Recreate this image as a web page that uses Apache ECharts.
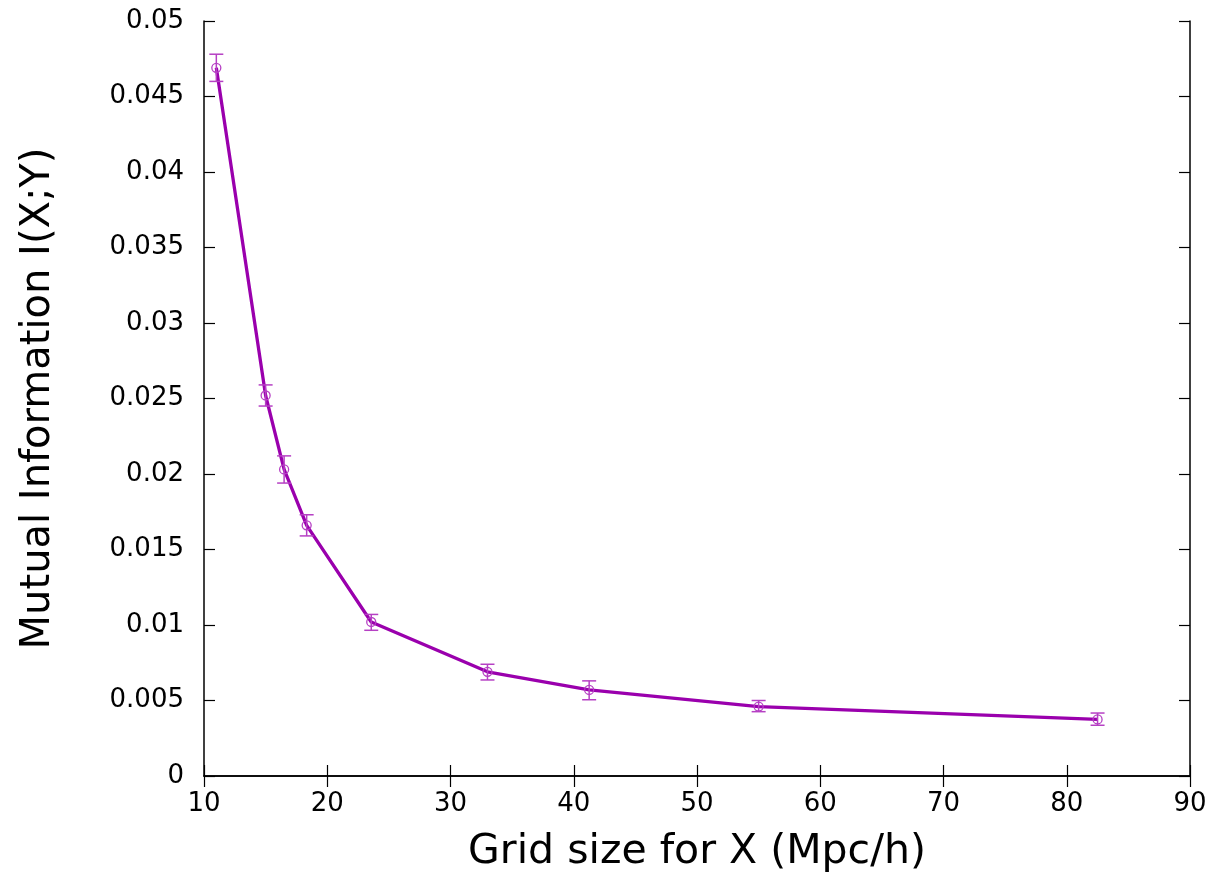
<!DOCTYPE html>
<html><head><meta charset="utf-8">
<script src="https://cdn.jsdelivr.net/npm/echarts@6/dist/echarts.min.js"></script>
<style>html,body{margin:0;padding:0;background:#fff}#c{width:1215px;height:874px}</style>
</head><body><div id="c"></div>
<script>
const gridSize = [11, 15, 16.5, 18.33, 23.57, 33, 41.25, 55, 82.5];
const mutualInfo = [0.0469, 0.0252, 0.0203, 0.0166, 0.0102, 0.0069, 0.0057, 0.0046, 0.00375];
const errLow = [0.0460, 0.0245, 0.0194, 0.0159, 0.00965, 0.00636, 0.00505, 0.00426, 0.00336];
const errHigh = [0.0478, 0.0259, 0.0212, 0.0173, 0.0107, 0.0074, 0.0063, 0.0050, 0.00417];
const xTicks = [10, 20, 30, 40, 50, 60, 70, 80, 90];
const yTicks = [0, 0.005, 0.01, 0.015, 0.02, 0.025, 0.03, 0.035, 0.04, 0.045, 0.05];

const lineColor = '#9a00ad';
const errColor = '#b640c4';
const font = 'DejaVu Sans';

const chart = echarts.init(document.getElementById('c'), null, {renderer: 'canvas'});
const pts = gridSize.map((x, i) => [x, mutualInfo[i]]);
const errs = gridSize.map((x, i) => [x, errLow[i], errHigh[i]]);

const axisCommon = {
  axisLine: {show: true, lineStyle: {color: '#000', width: 1.5}},
  axisTick: {show: true, inside: true, length: 11, lineStyle: {color: '#000', width: 1.2}},
  splitLine: {show: false},
};

chart.setOption({
  animation: false,
  grid: {left: 204, right: 25, top: 21, bottom: 98, containLabel: false, outerBoundsMode: 'none'},
  xAxis: [
    Object.assign({type: 'value', min: 10, max: 90, interval: 10, position: 'bottom',
      name: 'Grid size for X (Mpc/h)', nameLocation: 'middle', nameGap: 56,
      nameTextStyle: {fontFamily: font, fontSize: 41, color: '#000'},
      axisLabel: {fontFamily: font, fontSize: 26, color: '#000', margin: 15,
        formatter: v => xTicks.includes(v) ? String(v) : ''}}, axisCommon),
    Object.assign({type: 'value', min: 10, max: 90, interval: 10, position: 'top',
      axisLabel: {show: false}}, axisCommon)
  ],
  yAxis: [
    Object.assign({type: 'value', min: 0, max: 0.05, interval: 0.005, position: 'left',
      name: 'Mutual Information I(X;Y)', nameLocation: 'middle', nameGap: 145,
      nameTextStyle: {fontFamily: font, fontSize: 40, color: '#000'},
      axisLabel: {fontFamily: font, fontSize: 26, color: '#000', margin: 20,
        formatter: v => { const t = yTicks.find(k => Math.abs(k - v) < 1e-9); return t === undefined ? '' : String(+t.toFixed(3)); }}}, axisCommon),
    Object.assign({type: 'value', min: 0, max: 0.05, interval: 0.005, position: 'right',
      axisLabel: {show: false}}, axisCommon)
  ],
  series: [
    {
      type: 'line', data: pts, xAxisIndex: 0, yAxisIndex: 0,
      symbol: 'circle', symbolSize: 9,
      lineStyle: {color: lineColor, width: 3.3},
      itemStyle: {color: 'rgba(0,0,0,0)', borderColor: errColor, borderWidth: 1.3},
      z: 2
    },
    {
      type: 'custom', data: errs, xAxisIndex: 0, yAxisIndex: 0, z: 3,
      renderItem: function (params, api) {
        const x = api.value(0);
        const lo = api.coord([x, api.value(1)]);
        const hi = api.coord([x, api.value(2)]);
        const hw = 7;
        const st = {stroke: errColor, lineWidth: 1.5};
        return {type: 'group', children: [
          {type: 'line', shape: {x1: lo[0], y1: lo[1], x2: hi[0], y2: hi[1]}, style: st},
          {type: 'line', shape: {x1: lo[0] - hw, y1: lo[1], x2: lo[0] + hw, y2: lo[1]}, style: st},
          {type: 'line', shape: {x1: hi[0] - hw, y1: hi[1], x2: hi[0] + hw, y2: hi[1]}, style: st}
        ]};
      }
    }
  ]
});
</script></body></html>
